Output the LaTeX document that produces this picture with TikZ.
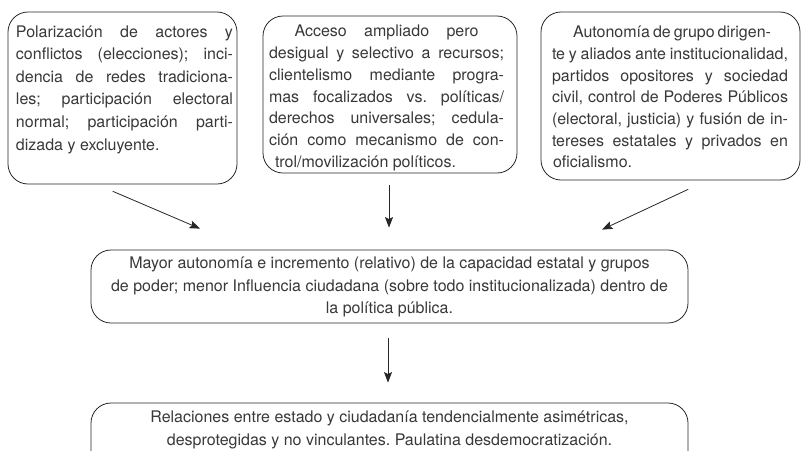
\documentclass[tikz,border=0pt]{standalone}
\usepackage{fontspec}
\setmainfont{TeX Gyre Heros}
\usetikzlibrary{arrows.meta}
\frenchspacing
\newcommand{\jfill}[2]{\makebox[#1][s]{#2}}
\newcommand{\lfill}[2]{\makebox[#1][l]{#2}}

\begin{document}
\begin{tikzpicture}[x=1pt,y=-1pt,line cap=round,line join=round,
	caja/.style={draw=black!85,line width=0.8pt,rounded corners=20pt,inner sep=0pt},
	texto/.style={align=center,inner sep=0pt,text=black!78,font=\fontsize{16}{22.6}\selectfont},
	flecha/.style={line width=0.8pt,draw=black!85,-{Stealth[length=10.5pt,width=8pt,inset=2pt]}}]
	\useasboundingbox (0,0) rectangle (802,450);
	\clip (0,0) rectangle (802,450);
	% cajas
	\node[caja,minimum width=229,minimum height=172] (b1) at (122.5,98) {};
	\node[caja,minimum width=254,minimum height=157] (b2) at (390,94.5) {};
	\node[caja,minimum width=259,minimum height=168] (b3) at (670.5,96) {};
	\node[caja,minimum width=597,minimum height=73] (b4) at (389.5,286.5) {};
	\node[caja,minimum width=597,minimum height=73] (b5) at (389.5,439.5) {};
	% textos
	\node[texto] (t1) at (124.5,89.5) {\jfill{217pt}{Polarización de actores y}\\
		\jfill{217pt}{conflictos (elecciones); inci-}\\
		\jfill{217pt}{dencia de redes tradiciona-}\\
		\jfill{217pt}{les; participación electoral}\\
		\jfill{217pt}{normal; participación parti-}\\
		\lfill{217pt}{dizada y excluyente.}};
	\node[texto,font=\fontsize{16}{21.7}\selectfont] (t2) at (386.5,98) {\jfill{184pt}{Acceso ampliado pero}\\
		\jfill{235pt}{desigual y selectivo a recursos;}\\
		\jfill{235pt}{clientelismo mediante progra-}\\
		\jfill{235pt}{mas focalizados vs. políticas/}\\
		\jfill{235pt}{derechos universales; cedula-}\\
		\jfill{235pt}{ción como mecanismo de con-}\\
		\lfill{235pt}{\hspace{6pt}trol/movilización políticos.}};
	\node[texto,font=\fontsize{16}{21.7}\selectfont] (t3) at (670,97) {\jfill{194pt}{Autonomía de grupo dirigen-}\\
		\jfill{236pt}{te y aliados ante institucionalidad,}\\
		\jfill{236pt}{partidos opositores y sociedad}\\
		\jfill{236pt}{civil, control de Poderes Públicos}\\
		\jfill{236pt}{(electoral, justicia) y fusión de in-}\\
		\jfill{236pt}{tereses estatales y privados en}\\
		\lfill{236pt}{\hspace{1pt}oficialismo.}};
	\node[texto] (t4) at (389.5,287) {Mayor autonomía e incremento (relativo) de la capacidad estatal y grupos\\
		de poder; menor Influencia ciudadana (sobre todo institucionalizada) dentro de\\
		la política pública.};
	\node[texto] (t5) at (389.5,430) {Relaciones entre estado y ciudadanía tendencialmente asimétricas,\\
		desprotegidas y no vinculantes. Paulatina desdemocratización.};
	% flechas
	\coordinate (a1s) at ([shift={(-9.5,7)}]b1.south);
	\coordinate (a1e) at ([shift={(-189.5,-21)}]b4.north);
	\coordinate (a2s) at ([shift={(-1,12)}]b2.south);
	\coordinate (a2e) at ([shift={(-0.5,-22)}]b4.north);
	\coordinate (a3s) at ([shift={(17.5,9)}]b3.south);
	\coordinate (a3e) at ([shift={(212.5,-20)}]b4.north);
	\coordinate (a4s) at ([shift={(-1.5,15)}]b4.south);
	\coordinate (a4e) at ([shift={(-1.5,-20)}]b5.north);
	\draw[flecha] (a1s) -- (a1e);
	\draw[flecha] (a2s) -- (a2e);
	\draw[flecha] (a3s) -- (a3e);
	\draw[flecha] (a4s) -- (a4e);
\end{tikzpicture}
\end{document}
